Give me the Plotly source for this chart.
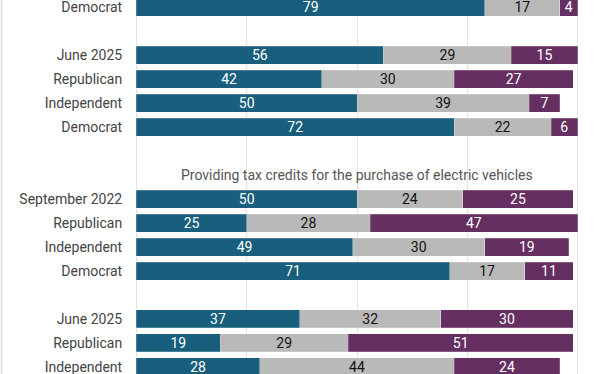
import plotly.graph_objects as go

# Rows from top to bottom; "" = spacer row, title row holds the question heading
row_labels = ["Democrat", "", "June 2025", "Republican", "Independent", "Democrat",
              "", "", "September 2022", "Republican", "Independent", "Democrat",
              "", "June 2025", "Republican", "Independent"]
favor = [79, None, 56, 42, 50, 72, None, None, 50, 25, 49, 71, None, 37, 19, 28]
neutral = [17, None, 29, 30, 39, 22, None, None, 24, 28, 30, 17, None, 32, 29, 44]
oppose = [4, None, 15, 27, 7, 6, None, None, 25, 47, 19, 11, None, 30, 51, 24]
question_title = "Providing tax credits for the purchase of electric vehicles"
title_row = 7

series = [
    ("Support", favor, "#185E7D", "white"),
    ("Neither", neutral, "#B9B9B9", "#111111"),
    ("Oppose", oppose, "#662F61", "white"),
]

ypos = list(range(len(row_labels)))

fig = go.Figure()
for name, vals, color, tcolor in series:
    fig.add_trace(go.Bar(
        name=name, y=ypos, x=vals, orientation="h",
        marker=dict(color=color, line=dict(color="rgba(255,255,255,0.35)", width=0.6)),
        text=[("" if v is None else str(v)) for v in vals],
        textposition="inside", insidetextanchor="middle", textangle=0,
        constraintext="none",
        textfont=dict(family="Roboto", size=14, color=tcolor),
        showlegend=False, hoverinfo="skip",
    ))

fig.add_annotation(x=50, y=title_row, xref="x", yref="y", text=question_title,
                   showarrow=False, font=dict(family="Roboto", size=14, color="#555555"))

fig.add_shape(type="line", xref="paper", yref="paper", x0=-0.2897, x1=-0.2897, y0=0, y1=1,
              line=dict(color="#E2E2E2", width=2))

fig.update_layout(
    width=612, height=374,
    margin=dict(l=131.6, r=29.6, t=0, b=0, autoexpand=False),
    barmode="stack", bargap=0.25,
    plot_bgcolor="white", paper_bgcolor="white",
    font=dict(family="Roboto", size=14, color="#444444"),
    xaxis=dict(range=[-1, 101], tickvals=[0, 25, 50, 75, 100], showticklabels=False,
               showgrid=True, gridcolor="#E3E3E3", gridwidth=1, zeroline=False,
               automargin=False),
    yaxis=dict(range=[15.292, -0.292], tickvals=ypos, ticktext=row_labels,
               showgrid=False, zeroline=False, ticks="outside", ticklen=6,
               tickcolor="rgba(0,0,0,0)", automargin=False, ticklabeloverflow="allow",
               tickfont=dict(family="Roboto", size=14, color="#444444")),
)

fig.write_html("out.html", config={"displayModeBar": False},
               post_script="document.body.style.margin='0';")
